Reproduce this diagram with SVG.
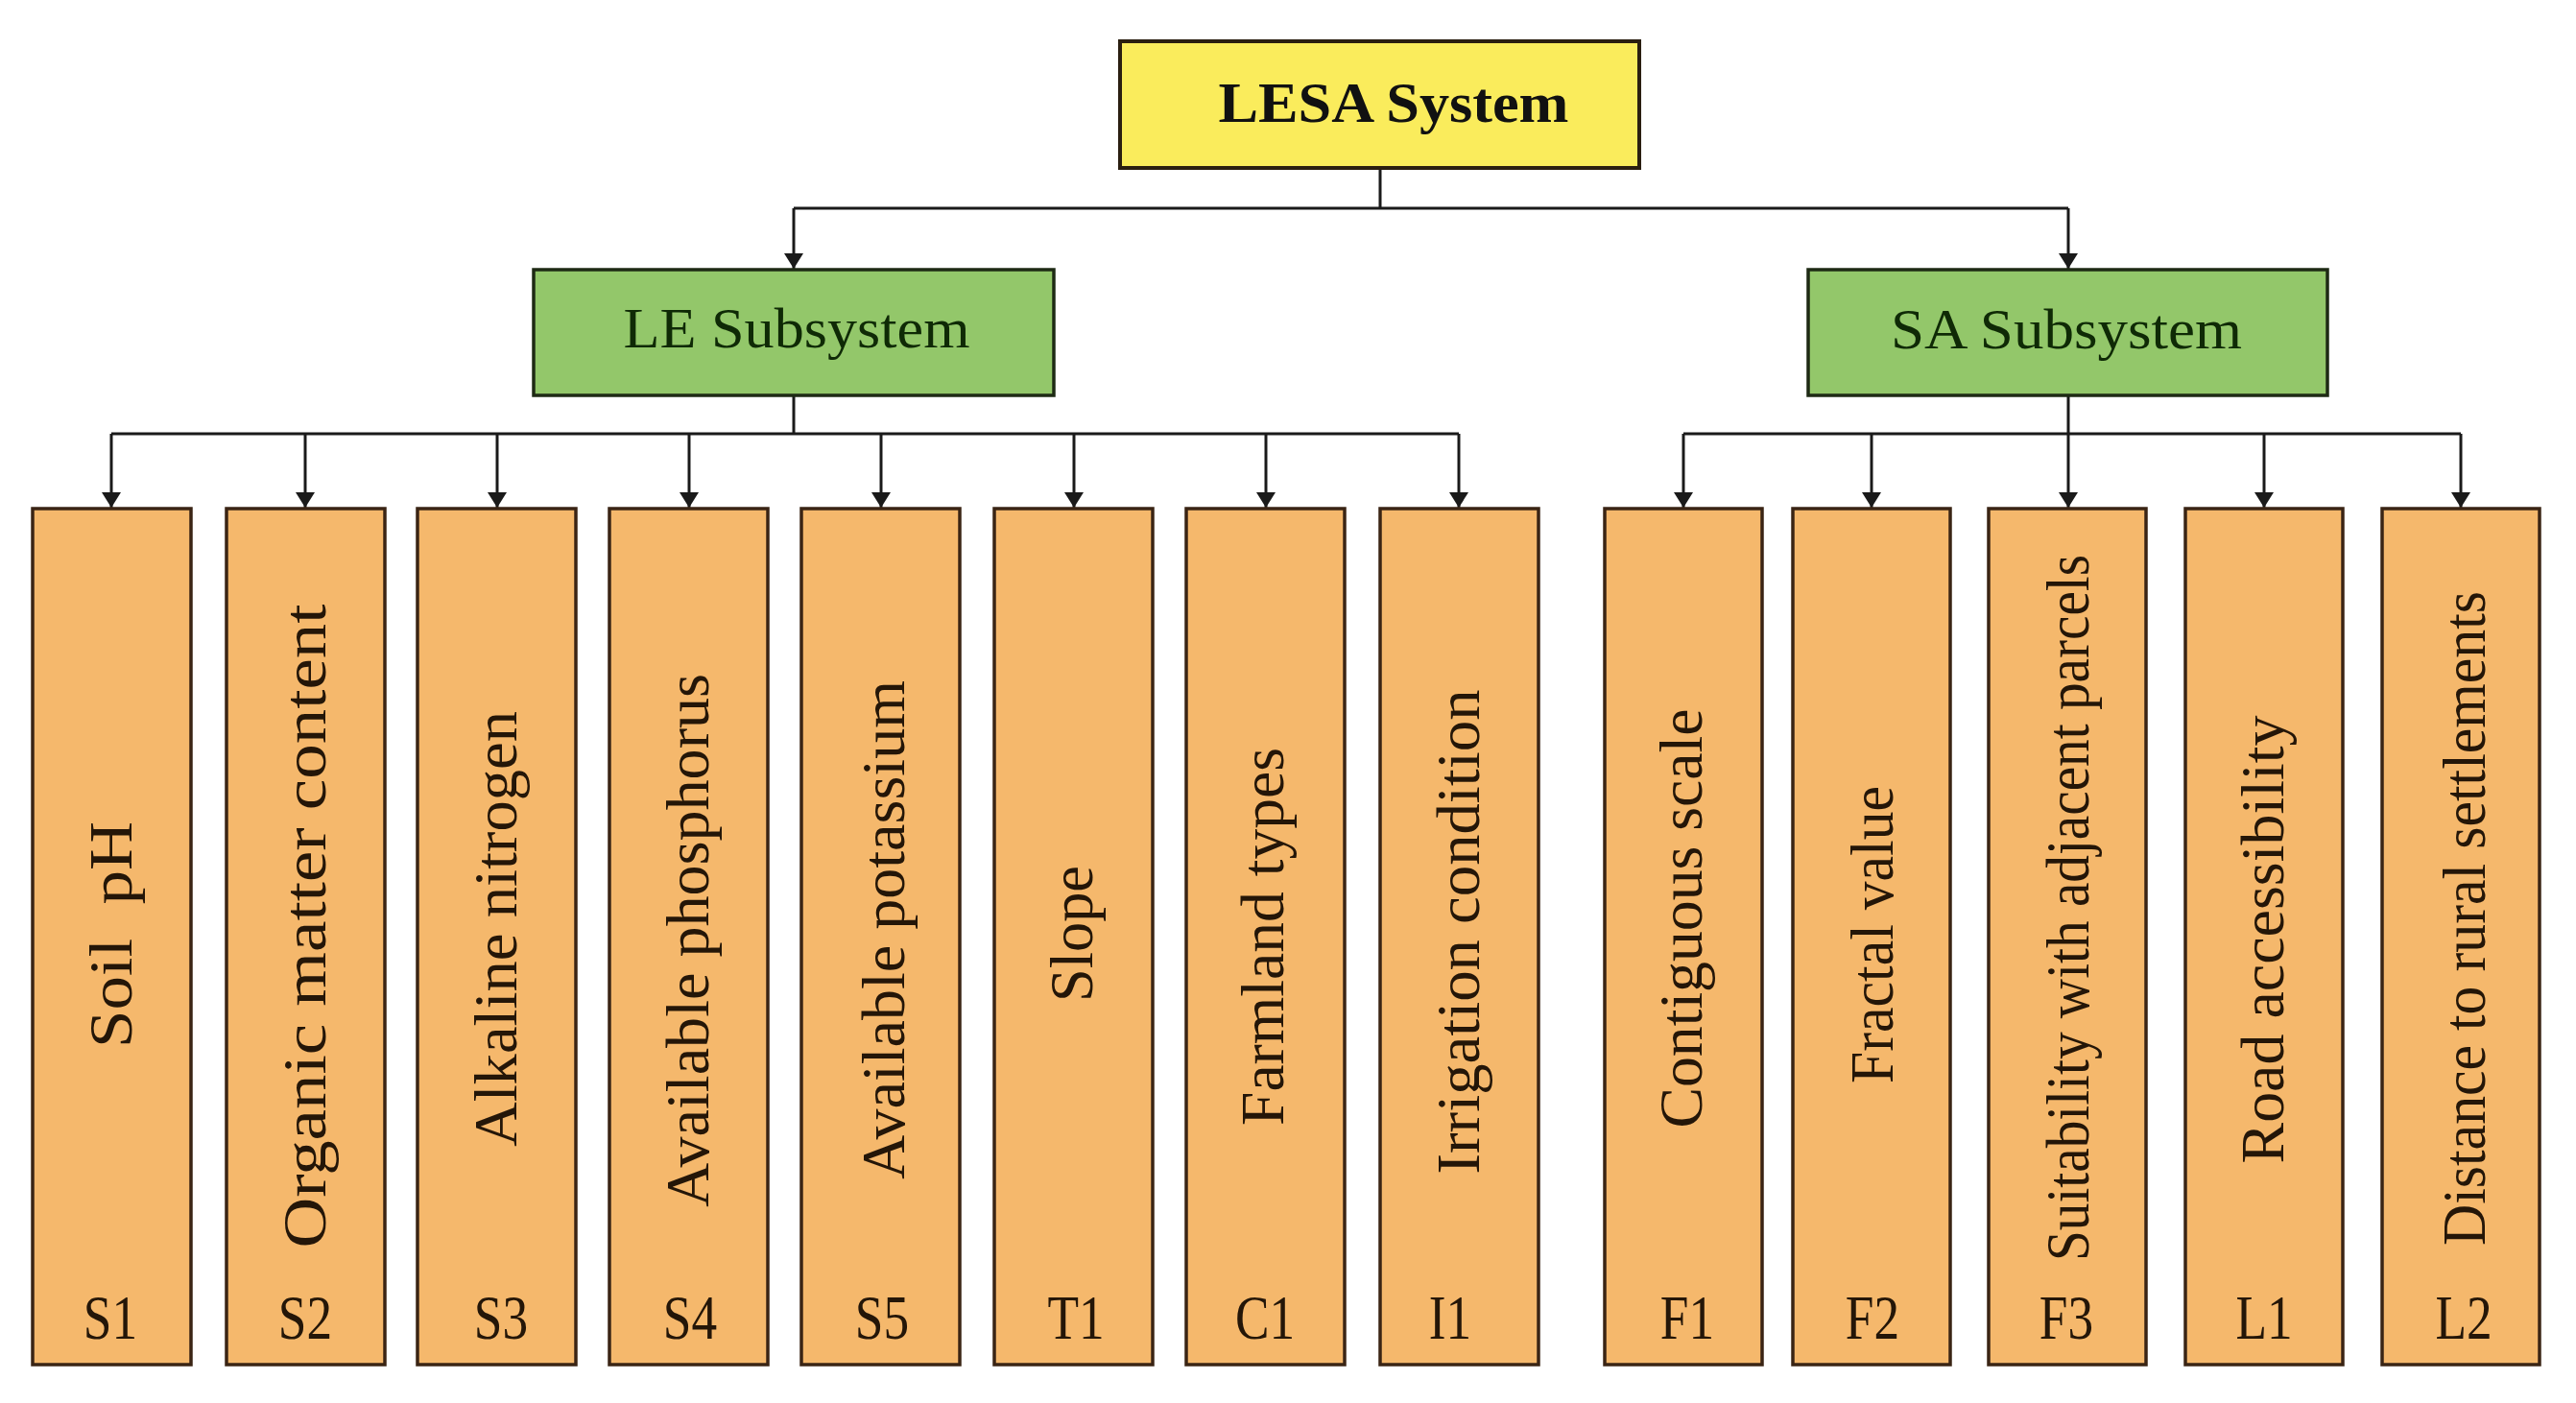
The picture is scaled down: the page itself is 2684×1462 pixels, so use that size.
<svg xmlns="http://www.w3.org/2000/svg" width="2684" height="1462" viewBox="0 0 2684 1462">
<defs>
<style>
.bg{fill:#ffffff}
.top{fill:#FAEC5C;stroke:#2a1e10;stroke-width:4}
.sub{fill:#93C76A;stroke:#1e2a14;stroke-width:3.5}
.leaf{fill:#F5B86C;stroke:#3a2414;stroke-width:3.5}
.conn{fill:none;stroke:#1a1a1a;stroke-width:3}
.t{font-family:"Liberation Serif","Times New Roman",serif}
.ttop{font-size:59px;font-weight:bold;fill:#111}
.tsub{font-size:60px;fill:#0f2a06}
.tleaf{font-size:64px;fill:#241608}
.tlab{font-size:65px;fill:#241608}
</style>
<marker id="arr" markerUnits="userSpaceOnUse" markerWidth="16" markerHeight="20" refX="16" refY="10" orient="auto" viewBox="0 0 16 20">
<path d="M0,0 L16,10 L0,20 Z" fill="#1a1a1a"/>
</marker>
</defs>
<rect class="bg" x="0" y="0" width="2684" height="1462"/>

<g id="connectors">
<path class="conn" d="M1438,175 V217 M827,217 H2155"/>
<path class="conn" d="M827,217 V280" marker-end="url(#arr)"/>
<path class="conn" d="M2155,217 V280" marker-end="url(#arr)"/>
<path class="conn" d="M827,412 V452 M116,452 H1520"/>
<path class="conn" d="M116,452 V529" marker-end="url(#arr)"/>
<path class="conn" d="M318,452 V529" marker-end="url(#arr)"/>
<path class="conn" d="M518,452 V529" marker-end="url(#arr)"/>
<path class="conn" d="M718,452 V529" marker-end="url(#arr)"/>
<path class="conn" d="M918,452 V529" marker-end="url(#arr)"/>
<path class="conn" d="M1119,452 V529" marker-end="url(#arr)"/>
<path class="conn" d="M1319,452 V529" marker-end="url(#arr)"/>
<path class="conn" d="M1520,452 V529" marker-end="url(#arr)"/>
<path class="conn" d="M2155,412 V452 M1754,452 H2564"/>
<path class="conn" d="M1754,452 V529" marker-end="url(#arr)"/>
<path class="conn" d="M1950,452 V529" marker-end="url(#arr)"/>
<path class="conn" d="M2155,452 V529" marker-end="url(#arr)"/>
<path class="conn" d="M2359,452 V529" marker-end="url(#arr)"/>
<path class="conn" d="M2564,452 V529" marker-end="url(#arr)"/>
</g>

<g id="lesa">
<rect class="top" x="1167" y="43" width="541" height="132"/>
<text class="t ttop" x="1452" y="127" text-anchor="middle" textLength="365" lengthAdjust="spacingAndGlyphs">LESA System</text>
</g>
<g id="le">
<rect class="sub" x="556" y="281" width="542" height="131"/>
<text class="t tsub" x="830" y="362" text-anchor="middle" textLength="361" lengthAdjust="spacingAndGlyphs">LE Subsystem</text>
</g>
<g id="sa">
<rect class="sub" x="1884" y="281" width="541" height="131"/>
<text class="t tsub" x="2153" y="363" text-anchor="middle" textLength="366" lengthAdjust="spacingAndGlyphs">SA Subsystem</text>
</g>

<g id="s1">
<rect class="leaf" x="34" y="530" width="165" height="892"/>
<text class="t tleaf" transform="translate(137,974) rotate(-90)" text-anchor="middle" textLength="236" lengthAdjust="spacingAndGlyphs" xml:space="preserve">Soil  pH</text>
<text class="t tlab" transform="translate(115,1395) scale(0.82,1)" text-anchor="middle">S1</text>
</g>
<g id="s2">
<rect class="leaf" x="236" y="530" width="165" height="892"/>
<text class="t tleaf" transform="translate(339,965) rotate(-90)" text-anchor="middle" textLength="671" lengthAdjust="spacingAndGlyphs">Organic matter content</text>
<text class="t tlab" transform="translate(318,1395) scale(0.82,1)" text-anchor="middle">S2</text>
</g>
<g id="s3">
<rect class="leaf" x="435" y="530" width="165" height="892"/>
<text class="t tleaf" transform="translate(538,968) rotate(-90)" text-anchor="middle" textLength="454" lengthAdjust="spacingAndGlyphs">Alkaline nitrogen</text>
<text class="t tlab" transform="translate(522,1395) scale(0.82,1)" text-anchor="middle">S3</text>
</g>
<g id="s4">
<rect class="leaf" x="635" y="530" width="165" height="892"/>
<text class="t tleaf" transform="translate(738,980) rotate(-90)" text-anchor="middle" textLength="556" lengthAdjust="spacingAndGlyphs">Available phosphorus</text>
<text class="t tlab" transform="translate(719,1395) scale(0.82,1)" text-anchor="middle">S4</text>
</g>
<g id="s5">
<rect class="leaf" x="835" y="530" width="165" height="892"/>
<text class="t tleaf" transform="translate(942,969) rotate(-90)" text-anchor="middle" textLength="520" lengthAdjust="spacingAndGlyphs">Available potassium</text>
<text class="t tlab" transform="translate(919,1395) scale(0.82,1)" text-anchor="middle">S5</text>
</g>
<g id="t1">
<rect class="leaf" x="1036" y="530" width="165" height="892"/>
<text class="t tleaf" transform="translate(1138,973) rotate(-90)" text-anchor="middle" textLength="142" lengthAdjust="spacingAndGlyphs">Slope</text>
<text class="t tlab" transform="translate(1121,1395) scale(0.82,1)" text-anchor="middle">T1</text>
</g>
<g id="c1">
<rect class="leaf" x="1236" y="530" width="165" height="892"/>
<text class="t tleaf" transform="translate(1337,976) rotate(-90)" text-anchor="middle" textLength="394" lengthAdjust="spacingAndGlyphs">Farmland types</text>
<text class="t tlab" transform="translate(1318,1395) scale(0.82,1)" text-anchor="middle">C1</text>
</g>
<g id="i1">
<rect class="leaf" x="1438" y="530" width="165" height="892"/>
<text class="t tleaf" transform="translate(1541,971) rotate(-90)" text-anchor="middle" textLength="505" lengthAdjust="spacingAndGlyphs">Irrigation condition</text>
<text class="t tlab" transform="translate(1511,1395) scale(0.82,1)" text-anchor="middle">I1</text>
</g>

<g id="f1">
<rect class="leaf" x="1672" y="530" width="164" height="892"/>
<text class="t tleaf" transform="translate(1773,957) rotate(-90)" text-anchor="middle" textLength="437" lengthAdjust="spacingAndGlyphs">Contiguous scale</text>
<text class="t tlab" transform="translate(1758,1395) scale(0.82,1)" text-anchor="middle">F1</text>
</g>
<g id="f2">
<rect class="leaf" x="1868" y="530" width="164" height="892"/>
<text class="t tleaf" transform="translate(1972,974) rotate(-90)" text-anchor="middle" textLength="310" lengthAdjust="spacingAndGlyphs">Fractal value</text>
<text class="t tlab" transform="translate(1951,1395) scale(0.82,1)" text-anchor="middle">F2</text>
</g>
<g id="f3">
<rect class="leaf" x="2072" y="530" width="164" height="892"/>
<text class="t tleaf" transform="translate(2176,946) rotate(-90)" text-anchor="middle" textLength="736" lengthAdjust="spacingAndGlyphs">Suitability with adjacent parcels</text>
<text class="t tlab" transform="translate(2153,1395) scale(0.82,1)" text-anchor="middle">F3</text>
</g>
<g id="l1">
<rect class="leaf" x="2277" y="530" width="164" height="892"/>
<text class="t tleaf" transform="translate(2379,979) rotate(-90)" text-anchor="middle" textLength="467" lengthAdjust="spacingAndGlyphs">Road accessibility</text>
<text class="t tlab" transform="translate(2359,1395) scale(0.82,1)" text-anchor="middle">L1</text>
</g>
<g id="l2">
<rect class="leaf" x="2482" y="530" width="164" height="892"/>
<text class="t tleaf" transform="translate(2589,957) rotate(-90)" text-anchor="middle" textLength="682" lengthAdjust="spacingAndGlyphs">Distance to rural settlements</text>
<text class="t tlab" transform="translate(2567,1395) scale(0.82,1)" text-anchor="middle">L2</text>
</g>
</svg>
